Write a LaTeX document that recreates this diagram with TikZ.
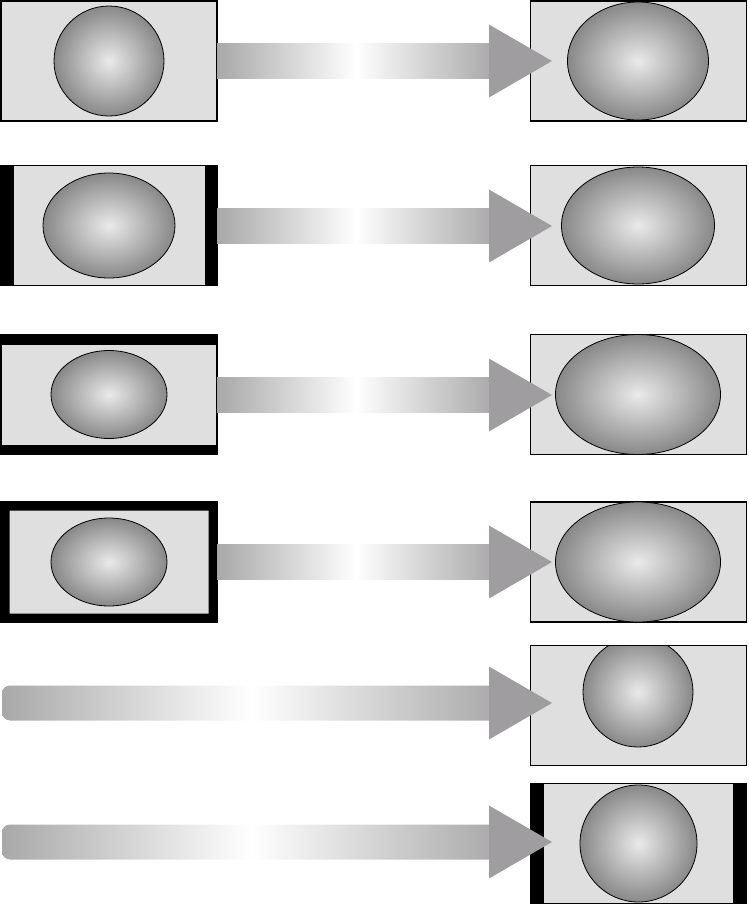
\documentclass[tikz,border=0pt]{standalone}
\usetikzlibrary{calc}
\definecolor{scrfill}{RGB}{223,223,223}
\definecolor{ballin}{RGB}{234,234,234}
\definecolor{ballout}{RGB}{136,136,136}
\definecolor{shaftgray}{RGB}{168,168,168}
\definecolor{headgray}{RGB}{159,157,159}
\begin{document}
\begin{tikzpicture}[x=1pt,y=1pt,
  scr/.style={draw=black,line width=1.5pt,fill=scrfill,minimum width=216pt,minimum height=120pt,inner sep=0pt,outer sep=0pt,anchor=north west},
  ball/.style={draw=black,line width=0.8pt,inner color=ballin,outer color=ballout},
  shaft/.style={left color=shaftgray,right color=shaftgray,middle color=white},
  head/.style={fill=headgray},
  bar/.style={fill=black}]
\useasboundingbox (0,0) rectangle (748,-906);
% left screens
\node[scr] (L1) at (1,-1) {};
\node[scr] (L2) at (1,-165.5) {};
\node[scr] (L3) at (1,-334.5) {};
\node[scr] (L4) at (1,-502) {};
% right screens
\node[scr] (R1) at (530.5,-1) {};
\node[scr] (R2) at (530.5,-165.5) {};
\node[scr] (R3) at (530.5,-334.5) {};
\node[scr] (R4) at (530.5,-502) {};
\node[scr] (R5) at (530.5,-645.5) {};
\node[scr] (R6) at (530.5,-783.5) {};
% black bars
\fill[bar] (L2.north west) rectangle ($(L2.south west)+(13,0)$);
\fill[bar] ($(L2.north east)+(-12,0)$) rectangle (L2.south east);
\fill[bar] (L3.north west) rectangle ($(L3.north east)+(0,-10)$);
\fill[bar] ($(L3.south west)+(0,10)$) rectangle (L3.south east);
\fill[bar,even odd rule] (L4.north west) rectangle (L4.south east)
  ($(L4.north west)+(8.5,-8.5)$) rectangle ($(L4.south east)+(-8.5,8.5)$);
\fill[bar] (R6.north west) rectangle ($(R6.south west)+(13.5,0)$);
\fill[bar] ($(R6.north east)+(-13.5,0)$) rectangle (R6.south east);
% pictures
\path[ball] (L1.center) ellipse [x radius=55,y radius=55];
\path[ball] (L2.center) ellipse [x radius=66,y radius=52.5];
\path[ball] (L3.center) ellipse [x radius=58,y radius=44];
\path[ball] (L4.center) ellipse [x radius=58,y radius=44];
\path[ball] ($(R1.center)+(-0.5,0)$) ellipse [x radius=70.5,y radius=59];
\path[ball] ($(R2.center)+(-0.5,0)$) ellipse [x radius=76.5,y radius=58.5];
\path[ball] ($(R3.center)+(-0.5,0)$) ellipse [x radius=82.5,y radius=60];
\path[ball] ($(R4.center)+(-0.5,0)$) ellipse [x radius=82.5,y radius=60];
\begin{scope}
  \clip (R5.north west) rectangle (R5.south east);
  \path[ball] ($(R5.center)+(-0.5,13.5)$) circle [radius=55];
\end{scope}
\draw[line width=1.5pt] (R5.north west) rectangle (R5.south east);
\path[ball] ($(R6.center)+(0,0)$) circle [radius=58.5];
% arrow tips and free starts
\coordinate (T1) at (552,-61);
\coordinate (T2) at (552,-226);
\coordinate (T3) at (552,-395);
\coordinate (T4) at (552,-562);
\coordinate (T5) at (552,-703);
\coordinate (T6) at (552,-842);
\coordinate (S5) at (2,-703);
\coordinate (S6) at (2,-842);
% shafts
\path[shaft] ($(L1.east |- T1)+(0,17.5)$) rectangle ($(T1)+(-57,-17.5)$);
\path[shaft] ($(L2.east |- T2)+(0,17.5)$) rectangle ($(T2)+(-57,-17.5)$);
\path[shaft] ($(L3.east |- T3)+(0,17.5)$) rectangle ($(T3)+(-57,-17.5)$);
\path[shaft] ($(L4.east |- T4)+(0,17.5)$) rectangle ($(T4)+(-57,-17.5)$);
\path[shaft,rounded corners=8pt] ($(S5)+(0,17.5)$) rectangle ($(T5)+(-52,-17.5)$);
\path[shaft,rounded corners=8pt] ($(S6)+(0,17.5)$) rectangle ($(T6)+(-52,-17.5)$);
% heads
\foreach \t in {T1,T2,T3,T4,T5,T6}
  \fill[head] ($(\t)+(-63,36.5)$) -- (\t) -- ($(\t)+(-63,-36.5)$) -- cycle;
\end{tikzpicture}
\end{document}
